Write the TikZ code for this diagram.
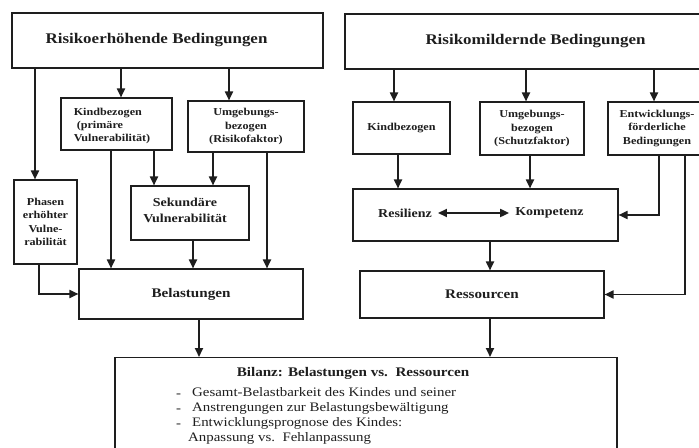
\documentclass[tikz,border=0pt]{standalone}
\usepackage{fontspec}
\setmainfont{Liberation Serif}[FakeStretch=1.15]
\usetikzlibrary{arrows.meta}
\definecolor{ink}{HTML}{1E1E1E}
\begin{document}
\begin{tikzpicture}[x=1bp,y=-1bp,
  box/.style={draw=ink, line width=1.1bp, inner sep=0pt, text=ink, font=\bfseries},
  small/.style={font=\bfseries\fontsize{10.6}{13.5}\selectfont, align=center},
  mid/.style={font=\bfseries\fontsize{12.2}{16}\selectfont, align=center},
  big/.style={font=\bfseries\fontsize{13.2}{16}\selectfont},
  head/.style={font=\bfseries\fontsize{14.8}{18}\selectfont},
  plain/.style={inner sep=0pt, text=ink},
  arr/.style={draw=ink, line width=1.8bp, -{Triangle[length=9bp,width=8bp]}},
  dbl/.style={draw=ink, line width=1.8bp, {Triangle[length=9bp,width=8bp]}-{Triangle[length=9bp,width=8bp]}}]
\useasboundingbox (0,0) rectangle (699,448);
\clip (0,0) rectangle (699,448);
\fill[white] (0,0) rectangle (699,448);

% risk side
\node[box, minimum width=311bp, minimum height=55bp] (rh) at (167.5,40.5) {};
\node[plain, head] (rht) at (156.5,40.5) {Risikoerhöhende Bedingungen};
\node[box, minimum width=111bp, minimum height=52bp] (kl) at (116.5,124) {};
\node[plain, small, align=left] (klt) at (112,126)
  {Kindbezogen\\\hspace{3bp}(primäre\\Vulnerabilität)};
\node[box, small, minimum width=116bp, minimum height=51bp] (ul) at (246,126.5)
  {Umgebungs-\\bezogen\\(Risikofaktor)};
\node[box, small, minimum width=63bp, minimum height=84bp] (ph) at (45.5,222)
  {Phasen\\erhöhter\\Vulne-\\rabilität};
\node[box, minimum width=118bp, minimum height=54bp] (sv) at (190,213) {};
\node[plain, mid] (svt) at (185,210) {Sekundäre\\Vulnerabilität};
\node[box, big, minimum width=224bp, minimum height=50bp] (bel) at (191,294) {Belastungen};

% protective side
\node[box, head, minimum width=381bp, minimum height=55bp] (rm) at (535.5,41.5) {Risikomildernde Bedingungen};
\node[box, small, minimum width=97bp, minimum height=52bp] (kr) at (401.5,128) {Kindbezogen};
\node[box, small, minimum width=104bp, minimum height=53bp] (ur) at (532,128.5)
  {Umgebungs-\\bezogen\\(Schutzfaktor)};
\node[box, small, minimum width=98bp, minimum height=53bp] (er) at (657,128.5)
  {Entwicklungs-\\förderliche\\Bedingungen};
\node[box, minimum width=265bp, minimum height=52bp] (rk) at (485.5,215) {};
\node[plain, mid] (res) at (405,213) {Resilienz};
\node[plain, mid] (kom) at (549.5,213) {Kompetenz};
\node[box, big, minimum width=244bp, minimum height=47bp] (ress) at (482,294.5) {Ressourcen};

% balance
\node[box, anchor=north, minimum width=502bp, minimum height=110bp] (bil) at (366,357) {};
\node[plain, big] (bilt) at (353,373) {Bilanz: Belastungen vs.\ \ Ressourcen};
\node[plain, anchor=north west, align=left, font=\fontsize{13}{15.3}\selectfont] (bill) at (176,387)
  {\makebox[16bp][l]{\raisebox{-1bp}{-}}Gesamt-Belastbarkeit des Kindes und seiner\\
   \makebox[16bp][l]{\raisebox{-1bp}{-}}Anstrengungen zur Belastungsbewältigung\\
   \makebox[16bp][l]{\raisebox{-1bp}{-}}Entwicklungsprognose des Kindes:\\
   \hspace{12bp}Anpassung vs.\ \ Fehlanpassung};

% connector columns
\coordinate (a1) at (35,0);
\coordinate (a2) at (121,0);
\coordinate (a3) at (229,0);
\coordinate (a4) at (111,0);
\coordinate (a5) at (154,0);
\coordinate (a6) at (213,0);
\coordinate (a7) at (267,0);
\coordinate (a8) at (193,0);
\coordinate (a9) at (39,0);
\coordinate (a10) at (199,0);
\coordinate (b1) at (394,0);
\coordinate (b2) at (526,0);
\coordinate (b3) at (654,0);
\coordinate (b4) at (398,0);
\coordinate (b5) at (530,0);
\coordinate (b6) at (659,0);
\coordinate (b7) at (685,0);
\coordinate (b8) at (490,0);

\draw[arr] (rh.south -| a1) -- (ph.north -| a1);
\draw[arr] (rh.south -| a2) -- (kl.north -| a2);
\draw[arr] (rh.south -| a3) -- (ul.north -| a3);
\draw[arr] (kl.south -| a4) -- (bel.north -| a4);
\draw[arr] (kl.south -| a5) -- (sv.north -| a5);
\draw[arr] (ul.south -| a6) -- (sv.north -| a6);
\draw[arr] (ul.south -| a7) -- (bel.north -| a7);
\draw[arr] (sv.south -| a8) -- (bel.north -| a8);
\draw[arr] (ph.south -| a9) |- (bel.west);
\draw[arr] (bel.south -| a10) -- (bil.north -| a10);

\draw[arr] (rm.south -| b1) -- (kr.north -| b1);
\draw[arr] (rm.south -| b2) -- (ur.north -| b2);
\draw[arr] (rm.south -| b3) -- (er.north -| b3);
\draw[arr] (kr.south -| b4) -- (rk.north -| b4);
\draw[arr] (ur.south -| b5) -- (rk.north -| b5);
\draw[arr] (er.south -| b6) |- (rk.east);
\draw[arr] (er.south -| b7) |- (ress.east);
\draw[arr] (rk.south -| b8) -- (ress.north -| b8);
\draw[arr] (ress.south -| b8) -- (bil.north -| b8);
\draw[dbl] ([xshift=6bp]res.east) -- ([xshift=-6bp]kom.west);
\end{tikzpicture}
\end{document}
